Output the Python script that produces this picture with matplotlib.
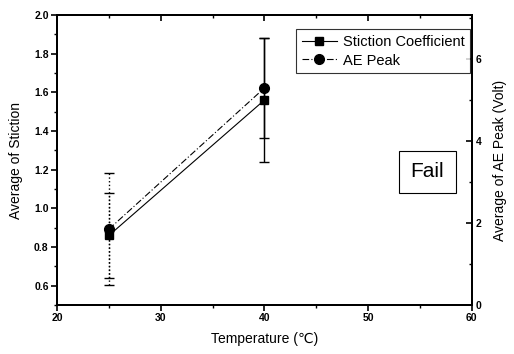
import matplotlib
matplotlib.use('Agg')
import matplotlib.pyplot as plt
from matplotlib.ticker import MultipleLocator

plt.rcParams['font.family'] = ['Liberation Sans', 'DejaVu Sans']

# data
temps = [25, 40]
stiction = [0.86, 1.56]
stiction_err = [0.22, 0.32]
ae_peak = [1.85, 5.29]
ae_err = [1.37, 1.22]

fig = plt.figure(figsize=(5.14, 3.54), dpi=100)
ax = fig.add_axes([0.111, 0.138, 0.807, 0.82])
ax2 = ax.twinx()

# stiction (left axis)
ax.plot(temps, stiction, color='black', lw=0.8, ls='-', marker='s', ms=6,
        label='Stiction Coefficient', zorder=3)
for i, (t, v, e) in enumerate(zip(temps, stiction, stiction_err)):
    ls = ':' if i == 0 else '-'
    ax.errorbar(t, v, yerr=e, fmt='none', ecolor='black', elinewidth=1.0,
                capsize=3.5, capthick=1.0).lines[2][0].set_linestyle(ls)

# AE peak (right axis)
ax2.plot(temps, ae_peak, color='black', lw=0.8, ls=(0, (6, 2, 1, 2)), marker='o', ms=7,
         label='AE Peak', zorder=3)
for i, (t, v, e) in enumerate(zip(temps, ae_peak, ae_err)):
    ls = ':' if i == 0 else '-'
    ax2.errorbar(t, v, yerr=e, fmt='none', ecolor='black', elinewidth=1.0,
                 capsize=3.5, capthick=1.0).lines[2][0].set_linestyle(ls)

ax.set_xlim(20, 60)
ax.set_ylim(0.5, 2.0)
ax2.set_ylim(0, 7.07)

ax.xaxis.set_major_locator(MultipleLocator(10))
ax.xaxis.set_minor_locator(MultipleLocator(5))
ax.yaxis.set_major_locator(MultipleLocator(0.2))
ax.yaxis.set_minor_locator(MultipleLocator(0.1))
ax2.yaxis.set_major_locator(MultipleLocator(2))
ax2.yaxis.set_minor_locator(MultipleLocator(1))

ax.tick_params(axis='both', which='major', direction='out', length=4, width=1.2,
               labelsize=7.5, pad=2)
ax.tick_params(axis='both', which='minor', direction='out', length=2, width=1)
ax2.tick_params(axis='y', which='major', direction='in', length=4, width=1.2,
                labelsize=7.5, pad=3)
ax2.tick_params(axis='y', which='minor', direction='in', length=2, width=1)

# top axis: ticks pointing inward, no labels
top = ax.secondary_xaxis('top')
top.xaxis.set_major_locator(MultipleLocator(10))
top.xaxis.set_minor_locator(MultipleLocator(5))
top.tick_params(which='major', direction='in', length=4, width=1.2, labeltop=False)
top.tick_params(which='minor', direction='in', length=2, width=1)

for lab in ax.get_xticklabels() + ax.get_yticklabels() + ax2.get_yticklabels():
    lab.set_fontweight('bold')

for a in (ax, ax2, top):
    for s in a.spines.values():
        s.set_linewidth(1.4)

ax.set_xlabel('Temperature (℃)', fontsize=10, labelpad=6)
ax.set_ylabel('Average of Stiction', fontsize=10, labelpad=8)
ax2.set_ylabel('Average of AE Peak (Volt)', fontsize=10, labelpad=8)

# legend
h1, l1 = ax.get_legend_handles_labels()
h2, l2 = ax2.get_legend_handles_labels()
leg = ax2.legend(h1 + h2, l1 + l2, loc='upper right', bbox_to_anchor=(1.0, 0.955),
                 borderaxespad=0.1,
                 fontsize=10.5, frameon=True, fancybox=False, edgecolor='black',
                 handlelength=2.4, handletextpad=0.4, borderpad=0.4, labelspacing=0.3)
leg.get_frame().set_linewidth(0.8)

ax.text(0.893, 0.46, 'Fail', transform=ax.transAxes, fontsize=15, ha='center', va='center',
        bbox=dict(boxstyle='square,pad=0.55', facecolor='white', edgecolor='black', lw=0.8))

fig.savefig('out.png', dpi=100)
